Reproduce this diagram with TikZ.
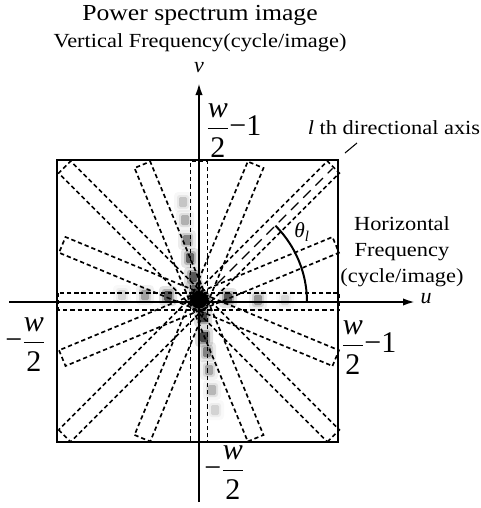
\documentclass[tikz,border=0pt]{standalone}
\usepackage{fontspec}
\setmainfont{Liberation Serif}[FakeStretch=1.12]
\newfontfamily\plainserif{Liberation Serif}
\usetikzlibrary{arrows.meta}
\newcommand\halfw{\frac{\mbox{\itshape w}\rule[-7pt]{0pt}{7pt}}{\rule{0pt}{21.5pt}\mbox{2}}}
\begin{document}
\begin{tikzpicture}[x=0.75pt,y=-0.75pt,
  axisline/.style={line width=1.5pt},
  frame/.style={line width=1.3pt},
  bandbox/.style={line width=1.25pt, dash pattern=on 3.2pt off 2.2pt},
  lbl/.style={inner sep=0pt, font=\fontsize{15}{19.5}\selectfont},
  titlelbl/.style={inner sep=0pt, font=\fontsize{17.2}{20}\selectfont},
  big/.style={inner sep=0pt, anchor=base west, font=\plainserif\fontsize{22.5}{26}\selectfont},
  axlbl/.style={inner sep=0pt, font=\plainserif\itshape\fontsize{16.5}{20}\selectfont},
]
\useasboundingbox (0,0) rectangle (481,508);
% spectrum blobs
\foreach \x/\y/\d in {183/202/0.18, 185/220/0.25, 187/240/0.4, 190/258/0.55, 193/277/0.6, 195/290/0.5,
  203/317/0.7, 204/337/0.7, 207/352/0.42, 209/370/0.28, 212/390/0.22, 215/410/0.13,
  168/296/0.6, 145/295/0.3, 122/295/0.12,
  228/298/0.6, 258/300/0.35, 285/300/0.12} {
  \pgfmathsetmacro\oa{0.18*\d}
  \pgfmathsetmacro\ob{0.35*\d}
  \pgfmathsetmacro\oc{0.85*\d}
  \fill[black, opacity=\oa, rounded corners=3pt] (\x-9,\y-10) rectangle (\x+9,\y+10);
  \fill[black, opacity=\ob, rounded corners=2pt] (\x-6,\y-7) rectangle (\x+6,\y+7);
  \fill[black, opacity=\oc, rounded corners=1pt] (\x-4,\y-5) rectangle (\x+4,\y+5);
}
\fill[black, opacity=0.4] (199,300) circle [radius=9pt];
\fill[black] (199,300) circle [radius=6.5pt];
% frame
\draw[frame] (57,160) rectangle (338,442);
% directional bands
\foreach \a/\L in {0/140.5, 22.5/148, 45/190, 67.5/148, 90/140.5, 112.5/148, 135/190, 157.5/148} {
  \draw[bandbox, shift={(199,301.5)}, rotate=\a] (-\L,-8.5) rectangle (\L,8.5);
}
% axes
\coordinate (C) at (199,302);
\coordinate (ustart) at (9,302);
\coordinate (uend) at (415,302);
\coordinate (vstart) at (199,502);
\coordinate (vend) at (199,83);
\draw[axisline,-{Latex[length=9pt,width=5.5pt]}] (ustart) -- (uend);
\draw[axisline,-{Latex[length=9pt,width=5.5pt]}] (vstart) -- (vend);
% angle arc
\draw[axisline] plot[domain=0:45, samples=40] ({199+108*cos(\x)},{302-108*sin(\x)});
% directional axis
\coordinate (d1) at (217.4,283.6);
\coordinate (d2) at (332.6,168.4);
\draw[line width=0.9pt, dash pattern=on 8pt off 5pt] (d1) -- (d2);
\coordinate (lead1) at (345,153);
\coordinate (lead2) at (357,143);
\draw[line width=0.8pt] (lead1) -- (lead2);
% labels
\node[titlelbl] (title) at (200,15) {Power spectrum image};
\node[lbl] (vert) at (200,43) {Vertical Frequency(cycle/image)};
\node[axlbl] (vlab) at (199,68) {v};
\node[axlbl] (ulab) at (426,299) {u};
\node[lbl] (laxis) at (394,128) {\textit{l} th directional axis};
\node[lbl, align=center] (hfreq) at (402,252) {Horizontal\\Frequency\\(cycle/image)};
\node[inner sep=0pt, font=\plainserif\fontsize{16}{18}\selectfont] (theta) at (302,232) {\textit{θ}\textsubscript{\textit{l}}};
\node[big] (ftop) at (206,135) {$\halfw\mbox{−1}$};
\node[big] (fright) at (341,352) {$\halfw\mbox{−1}$};
\node[big] (fleft) at (5,349) {$\mbox{−}\halfw$};
\node[big] (fbottom) at (204,477) {$\mbox{−}\halfw$};
\end{tikzpicture}
\end{document}
